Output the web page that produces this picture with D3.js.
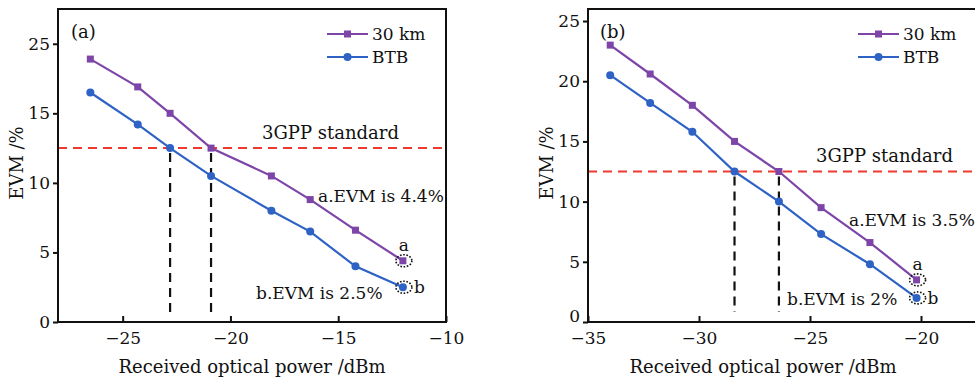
<!DOCTYPE html>
<html>
<head>
<meta charset="utf-8">
<script src="https://cdn.jsdelivr.net/npm/d3@7"></script>
<style>
  body { margin: 0; background: #fff; }
  svg text { font-family: "DejaVu Serif", "Liberation Serif", serif; fill: #111; }
</style>
</head>
<body>
<svg id="chart" width="975" height="379"></svg>
<script>
// panel (a)
const powerA = [-26.5, -24.3, -22.8, -20.9, -18.1, -16.3, -14.2, -12.0];
const evm30kmA = [18.9, 16.9, 15.0, 12.5, 10.5, 8.8, 6.6, 4.4];
const evmBtbA = [16.5, 14.2, 12.5, 10.5, 8.0, 6.5, 4.0, 2.5];
const xTicksA = [-25, -20, -15, -10];
const yTicksA = [0, 5, 10, 15, 20];
const yLabelsA = ["0", "5", "10", "15", "25"]; // as printed in the figure
const crossA = [-22.8, -20.9];

// panel (b)
const powerB = [-34, -32.2, -30.3, -28.4, -26.4, -24.5, -22.3, -20.2];
const evm30kmB = [23.0, 20.6, 18.0, 15.0, 12.5, 9.5, 6.6, 3.5];
const evmBtbB = [20.5, 18.2, 15.8, 12.5, 10.0, 7.3, 4.8, 2.0];
const xTicksB = [-35, -30, -25, -20];
const yTicksB = [0, 5, 10, 15, 20, 25];
const yLabelsB = ["0", "5", "10", "15", "20", "25"];
const crossB = [-28.4, -26.4];

const standard = 12.5;
const seriesNames = ["30 km", "BTB"];
const colors = {"30 km": "#7d45a8", "BTB": "#2e62c4"};

const svg = d3.select("#chart");

function drawPanel(p) {
  const x = d3.scaleLinear().domain(p.xDomain).range(p.xRange);
  const y = d3.scaleLinear().domain(p.yDomain).range(p.yRange);
  const g = svg.append("g");

  // 3GPP line
  g.append("line")
    .attr("x1", p.xRange[0]).attr("x2", Math.min(p.xRange[1], 975))
    .attr("y1", y(standard)).attr("y2", y(standard))
    .attr("stroke", "#ee3a2e").attr("stroke-width", 2)
    .attr("stroke-dasharray", "9,6");

  // vertical crossing lines
  g.selectAll(".cross").data(p.cross).join("line")
    .attr("x1", d => x(d)).attr("x2", d => x(d))
    .attr("y1", y(standard) + 5).attr("y2", y(0) - p.crossGap)
    .attr("stroke", "#111").attr("stroke-width", 2.2)
    .attr("stroke-dasharray", "9,6");

  const line = d3.line().x(d => x(d[0])).y(d => y(d[1]));
  const s30 = d3.zip(p.power, p.evm30);
  const sBtb = d3.zip(p.power, p.evmBtb);

  g.append("path").datum(s30).attr("d", line)
    .attr("fill", "none").attr("stroke", colors["30 km"]).attr("stroke-width", 2.2);
  g.append("path").datum(sBtb).attr("d", line)
    .attr("fill", "none").attr("stroke", colors["BTB"]).attr("stroke-width", 2.2);

  g.selectAll(".sq").data(s30).join("rect")
    .attr("x", d => x(d[0]) - 3.5).attr("y", d => y(d[1]) - 3.5)
    .attr("width", 7).attr("height", 7).attr("fill", colors["30 km"]);
  g.selectAll(".ci").data(sBtb).join("circle")
    .attr("cx", d => x(d[0])).attr("cy", d => y(d[1])).attr("r", 4)
    .attr("fill", colors["BTB"]);

  // dotted rings around last points
  const last30 = s30[s30.length - 1], lastB = sBtb[sBtb.length - 1];
  [last30, lastB].forEach(d => {
    g.append("ellipse")
      .attr("cx", x(d[0]) + 1).attr("cy", y(d[1]))
      .attr("rx", 8).attr("ry", 6)
      .attr("fill", "none").attr("stroke", "#111").attr("stroke-width", 1.6)
      .attr("stroke-dasharray", "1.6,1.6");
  });
  g.append("text").attr("x", x(last30[0]) + 1).attr("y", y(last30[1]) - 10)
    .attr("text-anchor", "middle").attr("font-size", 17).text("a");
  g.append("text").attr("x", x(lastB[0]) + 11).attr("y", y(lastB[1]) + 6)
    .attr("font-size", 17).text("b");

  // frame
  g.append("rect")
    .attr("x", p.xRange[0]).attr("y", p.yRange[1])
    .attr("width", p.xRange[1] - p.xRange[0]).attr("height", p.yRange[0] - p.yRange[1])
    .attr("fill", "none").attr("stroke", "#111").attr("stroke-width", 2);

  // axes
  const xAxis = g.append("g")
    .attr("transform", `translate(0,${p.yRange[0]})`)
    .call(d3.axisBottom(x).tickValues(p.xTicks).tickSizeInner(-6).tickSizeOuter(0)
      .tickPadding(10).tickFormat(d => d3.format("")(d).replace("-", "\u2212")));
  xAxis.select(".domain").remove();
  xAxis.selectAll("line").attr("stroke", "#111").attr("stroke-width", 2);
  xAxis.selectAll("text").attr("font-size", 17).attr("font-family", "DejaVu Serif").attr("fill", "#111");

  const yAxis = g.append("g")
    .attr("transform", `translate(${p.xRange[0]},0)`)
    .call(d3.axisLeft(y).tickValues(p.yTicks).tickSizeInner(5).tickSizeOuter(0)
      .tickPadding(3).tickFormat((d, i) => p.yLabels[i]));
  yAxis.select(".domain").remove();
  yAxis.selectAll("line").attr("stroke", "#111").attr("stroke-width", 2);
  yAxis.selectAll("text").attr("font-size", 17).attr("font-family", "DejaVu Serif").attr("fill", "#111");
  // zero label sits a little higher in panel (b)
  yAxis.selectAll(".tick").filter(d => d === 0).select("text").attr("dy", p.zeroDy);

  // titles
  g.append("text")
    .attr("x", p.xTitle[0]).attr("y", p.xTitle[1])
    .attr("text-anchor", "middle").attr("font-size", 18)
    .text("Received optical power /dBm");
  g.append("text")
    .attr("transform", `translate(${p.yTitle[0]},${p.yTitle[1]}) rotate(-90)`)
    .attr("text-anchor", "middle").attr("font-size", 18)
    .text("EVM /%");

  // panel tag
  g.append("text").attr("x", p.tag[0]).attr("y", p.tag[1])
    .attr("font-size", 18).text(p.tagText);

  // 3GPP label
  g.append("text").attr("x", p.std[0]).attr("y", p.std[1])
    .attr("font-size", 18).text("3GPP standard");

  // annotations
  g.append("text").attr("x", p.noteA[0]).attr("y", p.noteA[1])
    .attr("font-size", 17).text(p.noteAText);
  g.append("text").attr("x", p.noteB[0]).attr("y", p.noteB[1])
    .attr("font-size", 17).text(p.noteBText);

  // legend
  seriesNames.forEach((name, i) => {
    const ly = p.legend[1] + i * 23;
    g.append("line")
      .attr("x1", p.legend[0]).attr("x2", p.legend[0] + 41)
      .attr("y1", ly).attr("y2", ly)
      .attr("stroke", colors[name]).attr("stroke-width", 2.2);
    if (i === 0) {
      g.append("rect").attr("x", p.legend[0] + 17).attr("y", ly - 3.5)
        .attr("width", 7).attr("height", 7).attr("fill", colors[name]);
    } else {
      g.append("circle").attr("cx", p.legend[0] + 20.5).attr("cy", ly).attr("r", 4)
        .attr("fill", colors[name]);
    }
    g.append("text").attr("x", p.legend[0] + 45).attr("y", ly + 6)
      .attr("font-size", 17).text(name);
  });
}

drawPanel({
  xDomain: [-28, -10], xRange: [58, 446],
  yDomain: [0, 22.5], yRange: [322, 9],
  power: powerA, evm30: evm30kmA, evmBtb: evmBtbA,
  xTicks: xTicksA, yTicks: yTicksA, yLabels: yLabelsA,
  cross: crossA, crossGap: 4, zeroDy: "0.32em",
  xTitle: [252, 373], yTitle: [23, 163],
  tag: [71, 38], tagText: "(a)",
  std: [262, 139],
  noteA: [318, 202], noteAText: "a.EVM is 4.4%",
  noteB: [256, 299], noteBText: "b.EVM is 2.5%",
  legend: [327, 34]
});

drawPanel({
  xDomain: [-35, -15], xRange: [588, 1032],
  yDomain: [0, 26], yRange: [322, 9],
  power: powerB, evm30: evm30kmB, evmBtb: evmBtbB,
  xTicks: xTicksB, yTicks: yTicksB, yLabels: yLabelsB,
  cross: crossB, crossGap: 10, zeroDy: "-0.05em",
  xTitle: [763, 373], yTitle: [553, 163],
  tag: [600, 38], tagText: "(b)",
  std: [816, 162],
  noteA: [849, 226], noteAText: "a.EVM is 3.5%",
  noteB: [787, 305], noteBText: "b.EVM is 2%",
  legend: [858, 34]
});
</script>
</body>
</html>
